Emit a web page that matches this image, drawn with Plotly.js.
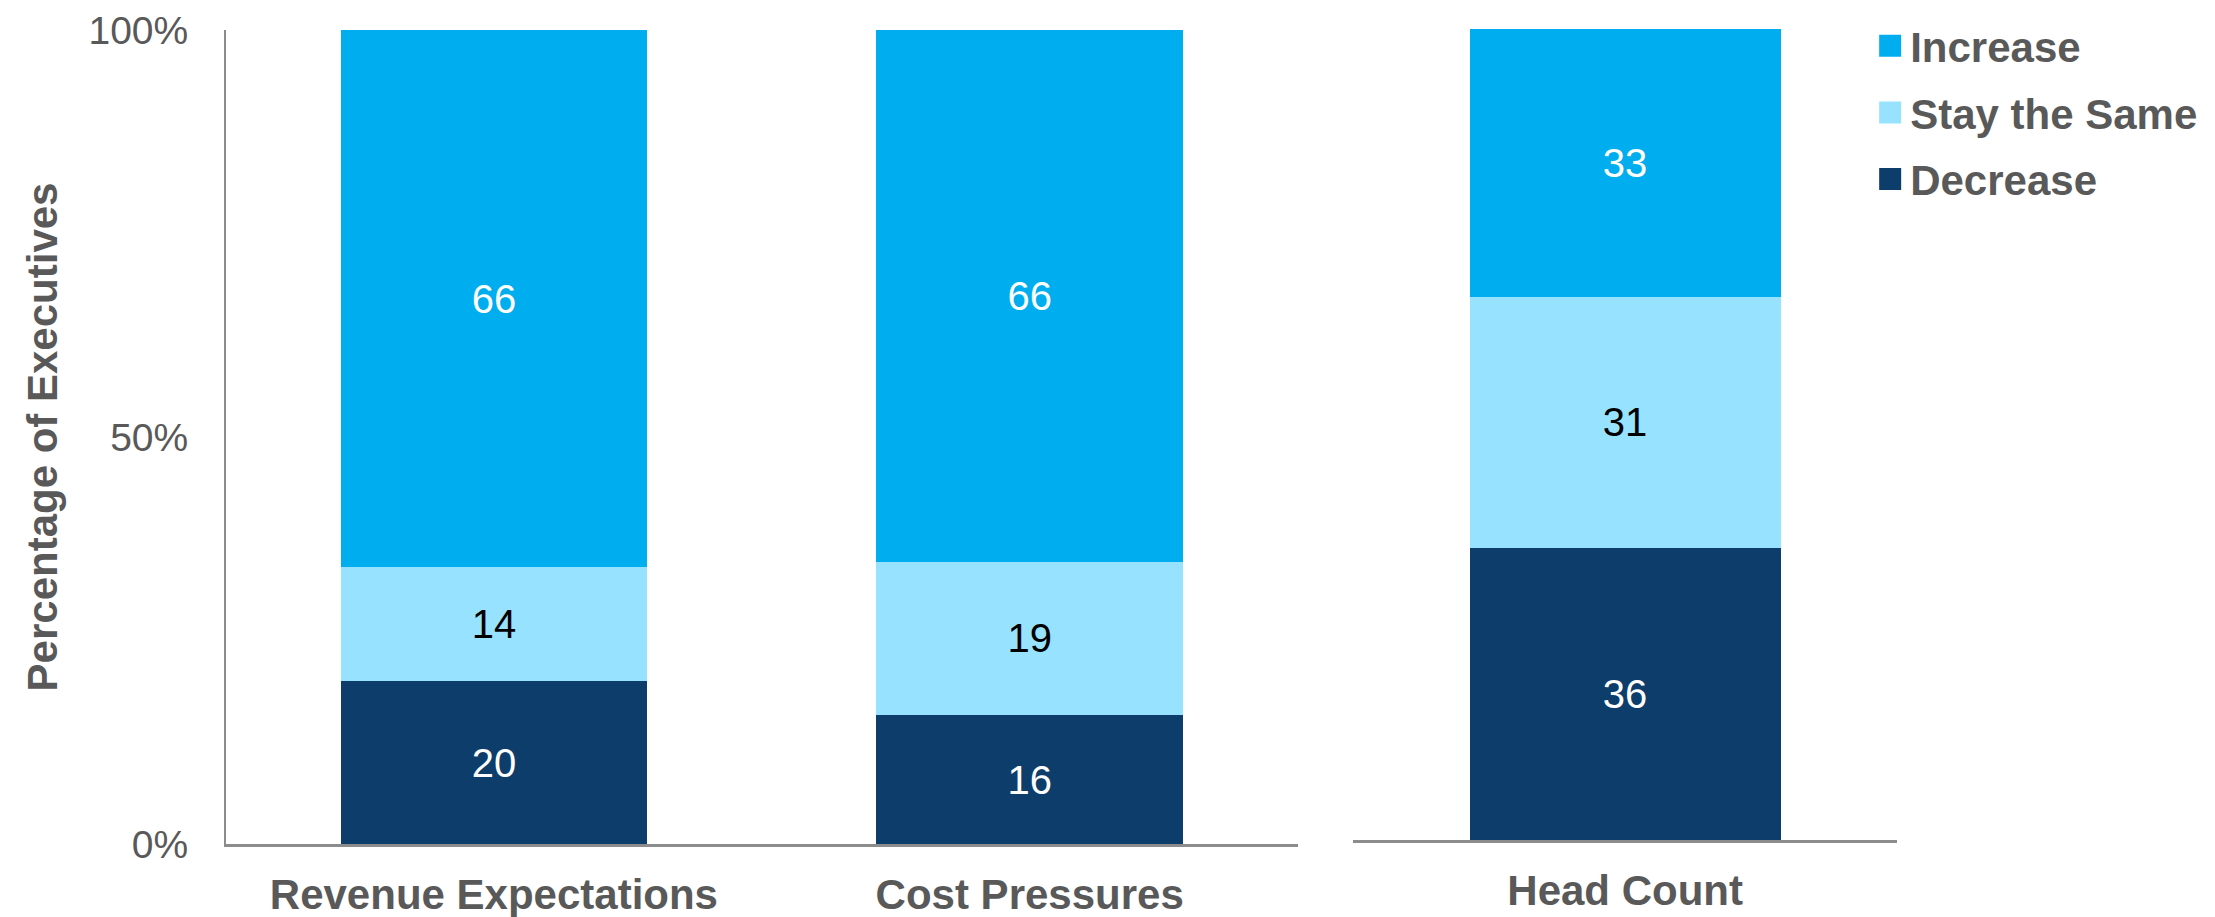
<!DOCTYPE html>
<html>
<head>
<meta charset="utf-8">
<script src="https://cdn.plot.ly/plotly-3.0.1.min.js"></script>
<style>html,body{margin:0;padding:0;background:#fff;}#chart{width:2215px;height:917px;}</style>
</head>
<body>
<div id="chart"></div>
<script>
// ---- data ----
const categories = ['Revenue Expectations', 'Cost Pressures', 'Head Count'];
const decreaseVals = [20, 16, 36];
const sameVals = [14, 19, 31];
const increaseVals = [66, 66, 33];
const seriesNames = ['Decrease', 'Stay the Same', 'Increase'];
const legendOrder = ['Increase', 'Stay the Same', 'Decrease'];
const yTickVals = [0, 50, 100];
const yTickText = ['0%', '50%', '100%'];

const colors = { 'Decrease': '#0C3D6B', 'Stay the Same': '#97E2FE', 'Increase': '#00AEEF' };
const textColors = { 'Decrease': '#FFFFFF', 'Stay the Same': '#000000', 'Increase': '#FFFFFF' };
const seriesVals = { 'Decrease': decreaseVals, 'Stay the Same': sameVals, 'Increase': increaseVals };

const FONT = 'Arial, "Liberation Sans", Helvetica, sans-serif';
const GRAY = '#595959';

const leftCats = categories.slice(0, 2);
const rightCats = categories.slice(2);

const traces = [];
seriesNames.forEach(name => {
  const vals = seriesVals[name];
  const rank = 1000 + legendOrder.indexOf(name);
  traces.push({
    type: 'bar', name: name, legendgroup: name, legendrank: rank,
    x: leftCats, y: vals.slice(0, 2),
    text: vals.slice(0, 2).map(String),
    textposition: 'inside', insidetextanchor: 'middle', constraintext: 'none',
    textfont: { family: FONT, size: 40, color: textColors[name] },
    marker: { color: colors[name], line: { width: 0 } },
    xaxis: 'x', yaxis: 'y', hoverinfo: 'skip'
  });
  traces.push({
    type: 'bar', name: name, legendgroup: name, legendrank: rank, showlegend: false,
    x: rightCats, y: vals.slice(2),
    text: vals.slice(2).map(String),
    textposition: 'inside', insidetextanchor: 'middle', constraintext: 'none',
    textfont: { family: FONT, size: 40, color: textColors[name] },
    marker: { color: colors[name], line: { width: 0 } },
    xaxis: 'x2', yaxis: 'y2', hoverinfo: 'skip'
  });
});

const W = 2215, H = 917;
const L = 226, R = 308, T = 27, B = 73;
const pw = W - L - R, ph = H - T - B;

const catAxis = {
  showline: true, linecolor: '#8C8C8C', linewidth: 3,
  showgrid: false, zeroline: false, ticks: '',
  tickfont: { family: FONT, size: 42, color: GRAY, weight: 'bold' },
  ticklabelstandoff: 12, fixedrange: true
};

const layout = {
  width: W, height: H,
  margin: { l: L, r: R, t: T, b: B, pad: 0 },
  paper_bgcolor: '#FFFFFF', plot_bgcolor: 'rgba(0,0,0,0)',
  barmode: 'stack', barnorm: 'percent', bargap: 0.428,
  font: { family: FONT, color: GRAY },
  showlegend: true,
  legend: {
    x: (1880 - L) / pw, xanchor: 'left',
    y: 1 + (T - 10) / ph, yanchor: 'top',
    font: { family: FONT, size: 42, color: GRAY, weight: 'bold' },
    bgcolor: 'rgba(0,0,0,0)', borderwidth: 0,
    traceorder: 'grouped', tracegroupgap: 9, itemclick: false
  },
  xaxis: Object.assign({}, catAxis, { domain: [0, 1078 / pw], anchor: 'y' }),
  xaxis2: Object.assign({}, catAxis, { domain: [1134 / pw, 1], anchor: 'y2' }),
  yaxis: {
    domain: [0, 816 / ph], anchor: 'x', range: [0, 100],
    showline: true, linecolor: '#8C8C8C', linewidth: 2,
    showgrid: false, zeroline: false, ticks: '',
    tickvals: yTickVals, ticktext: yTickText,
    tickfont: { family: FONT, size: 39, color: GRAY },
    ticklabelstandoff: 28,
    title: { text: 'Percentage of Executives', standoff: 18,
             font: { family: FONT, size: 42, color: GRAY, weight: 'bold' } },
    fixedrange: true
  },
  yaxis2: {
    domain: [4 / ph, 1], anchor: 'x2', range: [0, 100],
    showline: false, showgrid: false, zeroline: false, ticks: '',
    showticklabels: false, fixedrange: true
  }
};

Plotly.newPlot('chart', traces, layout, { displayModeBar: false, staticPlot: true }).then(gd => {
  // enlarge legend swatches to match reference squares
  gd.querySelectorAll('.legend .legendpoints path').forEach(p => {
    p.setAttribute('d', 'M11,11H-11V-11H11Z');
  });
});
</script>
</body>
</html>
